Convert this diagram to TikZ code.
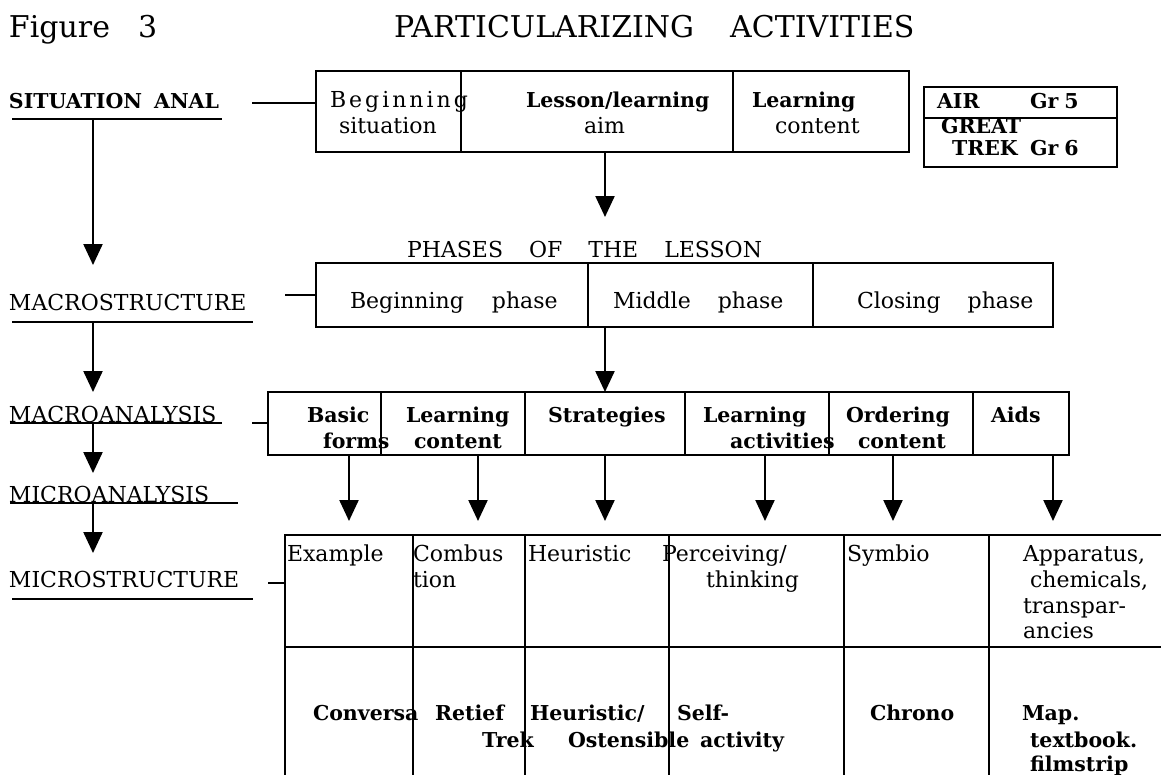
\documentclass[tikz,border=0pt]{standalone}
\usepackage{fontspec}
\setmainfont{DejaVu Serif}
\usetikzlibrary{arrows.meta}
\newcommand\mkcell[5]{\node[cell, minimum width={#4-#2}, minimum height={#5-#3}] (#1) at (#2,#3) {};}
\begin{document}
\begin{tikzpicture}[x=1pt,y=-1pt,
  every node/.style={inner sep=0pt, outer sep=0pt, font=\fontsize{22}{26}\selectfont},
  cell/.style={draw, line width=2.3pt, anchor=north west},
  txt/.style={anchor=base west},
  med/.style={font=\bfseries\fontsize{20.5}{26}\selectfont},
  bld/.style={font=\bfseries\fontsize{20.5}{26}\selectfont},
  ttl/.style={anchor=base west, font=\fontsize{30}{36}\selectfont},
  conn/.style={line width=2.3pt},
  uline/.style={line width=2.3pt},
  arr/.style={line width=2.3pt, -{Triangle[length=21pt,width=19pt]}}
]
\useasboundingbox (0,0) rectangle (1161,774);
\clip (0,0) rectangle (1161,774);

% titles
\node[ttl] (fig) at (9,37) {Figure\hspace{28pt}3};
\node[ttl] (ptitle) at (394,37) {PARTICULARIZING\hspace{36pt}ACTIVITIES};

% left labels
\node[txt,med] (sit) at (9,108) {SITUATION\hspace{12pt}ANAL};
\draw[uline] (12,119) -- (222,119);
\node[txt] (macs) at (9,310) {MACROSTRUCTURE};
\draw[uline] (12,322) -- (253,322);
\node[txt] (maca) at (9,422) {MACROANALYSIS};
\draw[uline] (10,423) -- (222,423);
\node[txt] (mica) at (9,502) {MICROANALYSIS};
\draw[uline] (10,503) -- (238,503);
\node[txt] (mics) at (9,587) {MICROSTRUCTURE};
\draw[uline] (12,599) -- (253,599);

% boxes
\mkcell{tb1}{316}{71}{461}{152}
\mkcell{tb2}{461}{71}{733}{152}
\mkcell{tb3}{733}{71}{909}{152}
\mkcell{air1}{924}{87}{1117}{118}
\mkcell{air2}{924}{118}{1117}{167}
\mkcell{pb1}{316}{263}{588}{327}
\mkcell{pb2}{588}{263}{813}{327}
\mkcell{pb3}{813}{263}{1053}{327}
\mkcell{mc1}{268}{392}{381}{455}
\mkcell{mc2}{381}{392}{525}{455}
\mkcell{mc3}{525}{392}{685}{455}
\mkcell{mc4}{685}{392}{829}{455}
\mkcell{mc5}{829}{392}{973}{455}
\mkcell{mc6}{973}{392}{1069}{455}
\mkcell{mt1}{285}{535}{413}{647}
\mkcell{mt2}{413}{535}{525}{647}
\mkcell{mt3}{525}{535}{669}{647}
\mkcell{mt4}{669}{535}{844}{647}
\mkcell{mt5}{844}{535}{989}{647}
\mkcell{mt6}{989}{535}{1200}{647}
\mkcell{mb1}{285}{647}{413}{830}
\mkcell{mb2}{413}{647}{525}{830}
\mkcell{mb3}{525}{647}{669}{830}
\mkcell{mb4}{669}{647}{844}{830}
\mkcell{mb5}{844}{647}{989}{830}
\mkcell{mb6}{989}{647}{1200}{830}

% horizontal connectors from labels
\coordinate (c1) at (252,103);
\draw[conn] (c1) -- (c1 -| tb1.west);
\coordinate (c2) at (285,295);
\draw[conn] (c2) -- (c2 -| pb1.west);
\coordinate (c3) at (252,423);
\draw[conn] (c3) -- (c3 -| mc1.west);
\coordinate (c4) at (268,583);
\draw[conn] (c4) -- (c4 -| mt1.west);

% left arrows
\coordinate (l1) at (93,119); \coordinate (l1t) at (93,265);
\coordinate (l2) at (93,322); \coordinate (l2t) at (93,392);
\coordinate (l3) at (93,423); \coordinate (l3t) at (93,473);
\coordinate (l4) at (93,503); \coordinate (l4t) at (93,553);
\draw[arr] (l1) -- (l1t);
\draw[arr] (l2) -- (l2t);
\draw[arr] (l3) -- (l3t);
\draw[arr] (l4) -- (l4t);

% main arrows
\coordinate (ph) at (605,217);
\draw[arr] (ph |- tb2.south) -- (ph);
\draw[arr] (mc3.north |- pb2.south) -- (mc3.north);
\coordinate (m1) at (349,521);
\coordinate (m2) at (478,521);
\coordinate (m3) at (605,521);
\coordinate (m4) at (765,521);
\coordinate (m5) at (893,521);
\coordinate (m6) at (1053,521);
\draw[arr] (m1 |- mc1.south) -- (m1);
\draw[arr] (m2 |- mc2.south) -- (m2);
\draw[arr] (m3 |- mc3.south) -- (m3);
\draw[arr] (m4 |- mc4.south) -- (m4);
\draw[arr] (m5 |- mc5.south) -- (m5);
\draw[arr] (m6 |- mc6.south) -- (m6);

% top box texts
\node[txt] (tbeg) at (330,107) {B\kern3pt e\kern3pt g\kern3pt i\kern3pt n\kern3pt n\kern3pt i\kern3pt n\kern3pt g};
\node[txt] (tsit) at (339,133) {situation};
\node[txt,bld] (tles) at (526,107) {Lesson/learning};
\node[txt] (taim) at (584,133) {aim};
\node[txt,bld] (tlea) at (752,107) {Learning};
\node[txt] (tcon) at (775,133) {content};
\node[txt,bld] (tair) at (937,108) {AIR};
\node[txt,bld] (tg5) at (1030,108) {Gr\hspace{6pt}5};
\node[txt,bld] (tgreat) at (941,133) {GREAT};
\node[txt,bld] (ttrek) at (952,155) {TREK};
\node[txt,bld] (tg6) at (1030,155) {Gr\hspace{6pt}6};

% phases
\node[txt] (tph) at (407,257) {PHASES\hspace{26pt}OF\hspace{26pt}THE\hspace{26pt}LESSON};
\node[txt] (tpb1) at (350,308) {Beginning\hspace{28pt}phase};
\node[txt] (tpb2) at (613,308) {Middle\hspace{27pt}phase};
\node[txt] (tpb3) at (857,308) {Closing\hspace{27pt}phase};

% macro texts
\node[txt,med] (x1a) at (307,422) {Basic};
\node[txt,med] (x1b) at (323,448) {forms};
\node[txt,med] (x2a) at (406,422) {Learning};
\node[txt,med] (x2b) at (414,448) {content};
\node[txt,med] (x3a) at (548,422) {Strategies};
\node[txt,med] (x4a) at (703,422) {Learning};
\node[txt,med] (x4b) at (730,448) {activities};
\node[txt,med] (x5a) at (846,422) {Ordering};
\node[txt,med] (x5b) at (858,448) {content};
\node[txt,med] (x6a) at (991,422) {Aids};

% micro top row
\node[txt] (y1a) at (287,561) {Example};
\node[txt] (y2a) at (413,561) {Combus};
\node[txt] (y2b) at (413,587) {tion};
\node[txt] (y3a) at (528,561) {Heuristic};
\node[txt] (y4a) at (662,561) {Perceiving/};
\node[txt] (y4b) at (706,587) {thinking};
\node[txt] (y5a) at (847,561) {Symbio};
\node[txt] (y6a) at (1023,561) {Apparatus,};
\node[txt] (y6b) at (1030,587) {chemicals,};
\node[txt] (y6c) at (1023,613) {transpar-};
\node[txt] (y6d) at (1023,638) {ancies};

% micro bottom row
\node[txt,med] (z1a) at (313,720) {Conversa};
\node[txt,med] (z2a) at (435,720) {Retief};
\node[txt,med] (z2b) at (482,747) {Trek};
\node[txt,med] (z3a) at (530,720) {Heuristic/};
\node[txt,med] (z3b) at (568,747) {Ostensible};
\node[txt,med] (z4a) at (677,720) {Self-};
\node[txt,med] (z4b) at (700,747) {activity};
\node[txt,med] (z5a) at (870,720) {Chrono};
\node[txt,med] (z6a) at (1022,720) {Map.};
\node[txt,med] (z6b) at (1030,747) {textbook.};
\node[txt,med] (z6c) at (1030,771) {filmstrip};
\end{tikzpicture}
\end{document}
